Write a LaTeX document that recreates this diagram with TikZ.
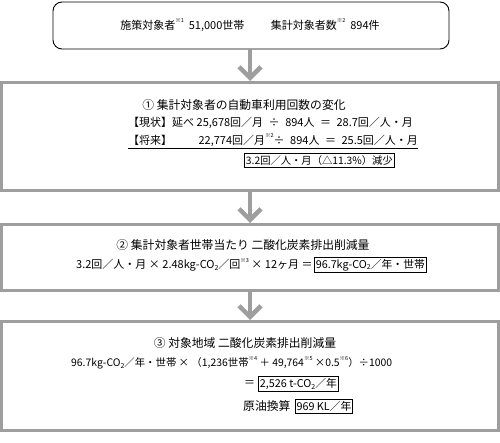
\documentclass[tikz,border=0pt]{standalone}
\usepackage{fontspec}
\setmainfont{Noto Sans CJK JP}
\usetikzlibrary{arrows.meta,positioning}
\definecolor{boxgray}{RGB}{158,158,158}
\newcommand\kome[1]{\raisebox{0.6em}{\fontsize{5.5pt}{5.5pt}\selectfont ※#1}}
\newcommand\cotwo{CO\raisebox{-0.15em}{\fontsize{7pt}{7pt}\selectfont 2}}
\tikzset{
  graybox/.style={draw=boxgray,line width=3pt,inner sep=0pt,fill=white},
  topbox/.style={draw=black,line width=0.9pt,rounded corners=9pt,inner sep=0pt},
  txt/.style={inner sep=0pt,font=\fontsize{11pt}{13pt}\selectfont},
  ttl/.style={inner sep=0pt,font=\fontsize{11.8pt}{13pt}\selectfont},
  kbox/.style={draw=black,line width=0.9pt,inner xsep=1.5pt,inner ysep=2pt,font=\fontsize{10.8pt}{13pt}\selectfont},
  arr/.style={draw=boxgray,line width=4.5pt,-{Straight Barb[length=11pt,width=22pt]}}
}
\begin{document}
\begin{tikzpicture}[x=1pt,y=-1pt]
\useasboundingbox (0,0) rectangle (500,443);
% boxes
\node[topbox,minimum width=396pt,minimum height=47pt] (top) at (251,25.5) {};
\node[graybox,minimum width=497pt,minimum height=108pt] (b2) at (250,136.5) {};
\node[graybox,minimum width=497pt,minimum height=66pt] (b3) at (250,257.5) {};
\node[graybox,minimum width=497pt,minimum height=109pt] (b4) at (250,376) {};
% arrows
\draw[arr] (top.south -| 250,0) -- (b2.north);
\draw[arr] (b2.south) -- (b3.north);
\draw[arr] (b3.south) -- (b4.north);
% top text
\node[txt] (t1) at (250,25) {施策対象者\kome{1}\ \ 51,000世帯\hspace{2.4em}集計対象者数\kome{2}\ \ 894件};
% box 2
\node[ttl] (h2) at (244,105) {① 集計対象者の自動車利用回数の変化};
\node[txt,anchor=west] (r21) at (128,123) {【現状】延べ 25,678回／月\hspace{0.5em}÷\hspace{0.5em}894人\hspace{0.5em}＝\hspace{0.5em}28.7回／人・月};
\node[txt,anchor=west] (r22) at (128,141) {\underline{【将来】\hspace{2.4em}22,774回／月\kome{2}÷\hspace{0.5em}894人\hspace{0.5em}＝\hspace{0.5em}25.5回／人・月}};
\node[kbox,anchor=west,font=\fontsize{10.3pt}{13pt}\selectfont] (k2) at (244,160.5) {3.2回／人・月（△11.3\%）減少};
% box 3
\node[ttl] (h3) at (243,245) {② 集計対象者世帯当たり 二酸化炭素排出削減量};
\node[txt,anchor=west] (r31) at (76,265) {3.2回／人・月 × 2.48kg-\cotwo／回\kome{3} × 12ヶ月 ＝};
\node[kbox,anchor=west] (k3) at ([xshift=1pt]r31.east) {96.7kg-\cotwo／年・世帯};
% box 4
\node[ttl] (h4) at (245,343) {③ 対象地域 二酸化炭素排出削減量};
\node[txt,anchor=west,font=\fontsize{10.4pt}{13pt}\selectfont] (r41) at (71,363) {96.7kg-\cotwo／年・世帯 × （1,236世帯\kome{4} ＋ 49,764\kome{5} ×0.5\kome{6}）÷1000};
\node[txt,anchor=west] (eq4) at (244,384) {＝};
\node[kbox,anchor=west] (k41) at (258,384) {2,526 t-\cotwo／年};
\node[ttl,anchor=west] (oil) at (243,406) {原油換算};
\node[kbox,anchor=west] (k42) at ([xshift=4pt]oil.east) {969 KL／年};
\end{tikzpicture}
\end{document}
